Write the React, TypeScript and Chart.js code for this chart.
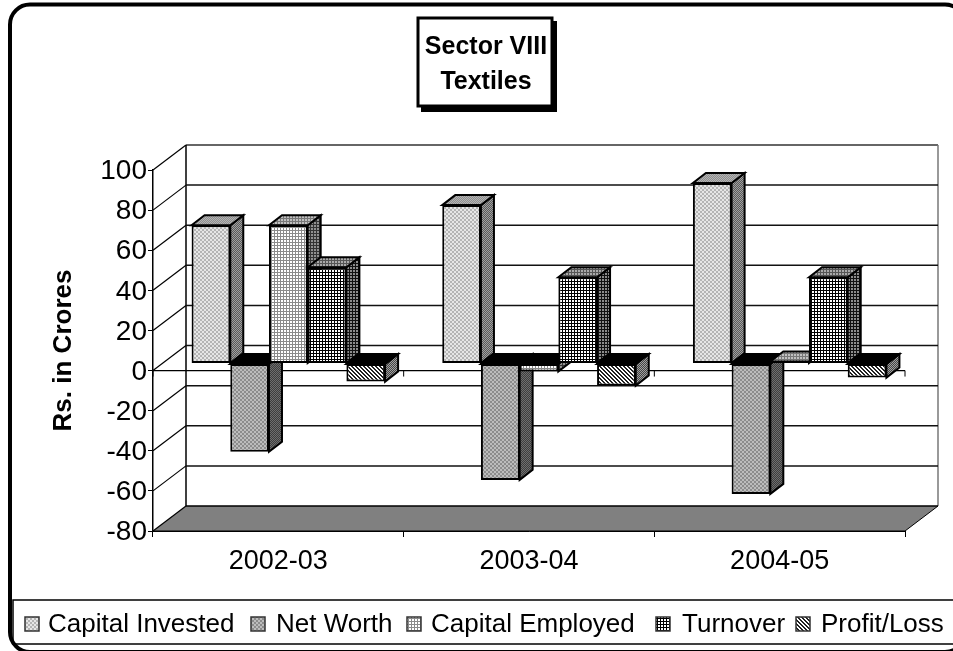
import React, { useEffect, useRef } from "react";
import { Chart, registerables } from "chart.js";

Chart.register(...registerables);

const categories = ["2002-03", "2003-04", "2004-05"];
const capitalInvested = [69, 79, 90];
const netWorth = [-44, -58, -65];
const capitalEmployed = [69, -4, 1];
const turnover = [48, 43, 43];
const profitLoss = [-9, -11, -7];
const seriesNames = ["Capital Invested", "Net Worth", "Capital Employed", "Turnover", "Profit/Loss"];
const seriesValues = [capitalInvested, netWorth, capitalEmployed, turnover, profitLoss];
const titleLines = ["Sector VIII", "Textiles"];
const axisTitle = "Rs. in Crores";

const FONT = '"Liberation Sans", Arial, sans-serif';
const WALL = { dx: 33, dy: -25 };
const BAR_OFFSET = { dx: 10, dy: -7 };
const BAR_DEPTH = { dx: 13, dy: -10 };
const LEGEND_SWATCH_X = [24, 250, 406, 655, 795];
const LEGEND_TEXT_X = [48, 276, 431, 682, 821];

type Pat = { rows: string[]; a: string; b: string };
const checker = (a: string, b: string): Pat => ({ rows: ["aabb", "aabb", "bbaa", "bbaa"], a, b });
const fine = (a: string, b: string): Pat => ({ rows: ["ab", "ba"], a, b });
const grid = (a: string, b: string): Pat => ({ rows: ["aaa", "abb", "abb"], a, b });
const hatch = (a: string, b: string): Pat => ({ rows: ["aabb", "baab", "bbaa", "abba"], a, b });

const styles = [
  { front: checker("#b4b4b4", "#e6e6e6"), side: fine("#5a5a5a", "#a0a0a0"), top: fine("#8e8e8e", "#b4b4b4") },
  { front: checker("#8c8c8c", "#bcbcbc"), side: fine("#3e3e3e", "#6e6e6e"), top: fine("#8e8e8e", "#b4b4b4") },
  { front: grid("#8a8a8a", "#ffffff"), side: grid("#333333", "#909090"), top: grid("#777777", "#c0c0c0") },
  { front: grid("#000000", "#ffffff"), side: grid("#111111", "#8c8c8c"), top: grid("#555555", "#aaaaaa") },
  { front: hatch("#222222", "#ffffff"), side: fine("#444444", "#a0a0a0"), top: hatch("#555555", "#aaaaaa") },
];

let activePats: { front: CanvasPattern; side: CanvasPattern; top: CanvasPattern }[] = [];

function makePattern(ctx: CanvasRenderingContext2D, p: Pat): CanvasPattern {
  const c = document.createElement("canvas");
  c.width = p.rows[0].length;
  c.height = p.rows.length;
  const g = c.getContext("2d")!;
  p.rows.forEach((row, y) => {
    [...row].forEach((ch, x) => {
      g.fillStyle = ch === "a" ? p.a : p.b;
      g.fillRect(x, y, 1, 1);
    });
  });
  return ctx.createPattern(c, "repeat")!;
}

function poly(ctx: CanvasRenderingContext2D, pts: number[][], fill: any, stroke?: string, lw = 2) {
  ctx.beginPath();
  pts.forEach(([x, y], i) => (i ? ctx.lineTo(x, y) : ctx.moveTo(x, y)));
  ctx.closePath();
  if (fill) {
    ctx.fillStyle = fill;
    ctx.fill();
  }
  if (stroke) {
    ctx.strokeStyle = stroke;
    ctx.lineWidth = lw;
    ctx.lineJoin = "miter";
    ctx.stroke();
  }
}

function line(ctx: CanvasRenderingContext2D, x1: number, y1: number, x2: number, y2: number, color: string, lw: number) {
  ctx.beginPath();
  ctx.moveTo(x1, y1);
  ctx.lineTo(x2, y2);
  ctx.strokeStyle = color;
  ctx.lineWidth = lw;
  ctx.stroke();
}

const walls = {
  id: "walls",
  beforeDraw(chart: any) {
    const { ctx, chartArea: a, scales } = chart;
    const y = scales.y;
    const { dx, dy } = WALL;
    ctx.save();
    ctx.fillStyle = "#ffffff";
    ctx.fillRect(0, 0, chart.width, chart.height);
    // outer frame
    ctx.beginPath();
    ctx.roundRect(10, 4.5, 955, 647.5, 20);
    ctx.strokeStyle = "#000";
    ctx.lineWidth = 4;
    ctx.stroke();
    // floor
    poly(ctx, [[a.left, a.bottom], [a.left + dx, a.bottom + dy], [a.right + dx, a.bottom + dy], [a.right, a.bottom]], "#808080");
    // walls
    line(ctx, a.left + dx, a.top + dy, a.right + dx, a.top + dy, "#333", 1.5);
    line(ctx, a.right + dx, a.top + dy, a.right + dx, a.bottom + dy, "#777", 1.5);
    line(ctx, a.left + dx, a.top + dy, a.left + dx, a.bottom + dy, "#000", 1.5);
    line(ctx, a.left + dx, a.bottom + dy, a.right + dx, a.bottom + dy, "#000", 1.5);
    line(ctx, a.right, a.bottom, a.right + dx, a.bottom + dy, "#000", 1);
    line(ctx, a.left, a.bottom, a.right, a.bottom, "#000", 1);
    for (const tick of y.ticks) {
      const py = y.getPixelForValue(tick.value);
      line(ctx, a.left, py, a.left + dx, py + dy, "#000", 1.2);
      if (tick.value > y.min && tick.value < y.max) line(ctx, a.left + dx, py + dy, a.right + dx, py + dy, "#111", 1.5);
    }
    // zero line with its ticks
    const zero = y.getPixelForValue(0);
    line(ctx, a.left, zero, a.right, zero, "#000", 1.2);
    const step = (a.right - a.left) / categories.length;
    for (let i = 0; i <= categories.length; i++) {
      const px = a.left + i * step;
      line(ctx, px, zero, px, zero + 6, "#000", 1);
    }
    ctx.restore();
  },
};

const bars3d = {
  id: "bars3d",
  // The library would paint the last series first; the 3D look needs left-to-right.
  beforeDatasetDraw() {
    return false;
  },
  afterDatasetsDraw(chart: any) {
    const { ctx } = chart;
    const { dx, dy } = BAR_DEPTH;
    seriesNames.forEach((_, i) => {
      const meta = chart.getDatasetMeta(i);
      const st = activePats[i];
      ctx.save();
      ctx.translate(BAR_OFFSET.dx, BAR_OFFSET.dy);
      for (const el of meta.data) {
        const { x, y, base, width } = el.getProps(["x", "y", "base", "width"], true);
        const l = x - width / 2;
        const r = x + width / 2;
        const top = Math.min(y, base);
        const bottom = Math.max(y, base);
        poly(ctx, [[r, top], [r + dx, top + dy], [r + dx, bottom + dy], [r, bottom]], st.side, "#000", 2);
        const negative = y > base;
        poly(ctx, [[l, top], [l + dx, top + dy], [r + dx, top + dy], [r, top]], negative ? "#000" : st.top, "#000", 2);
      }
      meta.controller.draw();
      ctx.restore();
    });
  },
};

const overlay = {
  id: "overlay",
  afterDraw(chart: any) {
    const { ctx } = chart;
    ctx.save();
    // legend
    ctx.strokeStyle = "#000";
    ctx.lineWidth = 1.5;
    ctx.strokeRect(13, 600, 960, 44);
    ctx.font = `26px ${FONT}`;
    ctx.textBaseline = "alphabetic";
    ctx.textAlign = "left";
    seriesNames.forEach((name, i) => {
      const lx = LEGEND_SWATCH_X[i];
      ctx.fillStyle = activePats[i].front;
      ctx.fillRect(lx + 1, 617, 14, 14);
      ctx.strokeStyle = "#333";
      ctx.lineWidth = 1.5;
      ctx.strokeRect(lx + 1, 617, 14, 14);
      ctx.fillStyle = "#000";
      ctx.fillText(name, LEGEND_TEXT_X[i], 632);
    });
    // title box
    ctx.fillStyle = "#000";
    ctx.fillRect(421, 21, 136, 91);
    ctx.fillStyle = "#fff";
    ctx.fillRect(417, 17, 136, 90);
    ctx.strokeStyle = "#000";
    ctx.lineWidth = 3;
    ctx.strokeRect(418, 18, 134, 88);
    ctx.fillStyle = "#000";
    ctx.font = `bold 25px ${FONT}`;
    ctx.textAlign = "center";
    ctx.textBaseline = "middle";
    titleLines.forEach((t, i) => ctx.fillText(t, 486, 47 + i * 35));
    ctx.restore();
  },
};

export default function App() {
  const ref = useRef<HTMLCanvasElement>(null);
  useEffect(() => {
    const canvas = ref.current!;
    const ctx = canvas.getContext("2d")!;
    activePats = styles.map((s) => ({
      front: makePattern(ctx, s.front),
      side: makePattern(ctx, s.side),
      top: makePattern(ctx, s.top),
    }));
    const chart: any = new Chart(canvas, {
      type: "bar",
      data: {
        labels: categories,
        datasets: seriesNames.map((label, i) => ({
          label,
          data: seriesValues[i],
          backgroundColor: activePats[i].front,
          borderColor: "#000",
          borderWidth: 2,
          borderSkipped: false,
          categoryPercentage: 0.772,
          barPercentage: 1,
          clip: false,
        })),
      },
      options: {
        responsive: false,
        animation: false,
        devicePixelRatio: 1,
        layout: { padding: { top: 170, right: 48, left: 0, bottom: 0 } },
        plugins: { legend: { display: false }, title: { display: false }, tooltip: { enabled: false } },
        scales: {
          x: {
            offset: true,
            afterFit(s: any) {
              s.height = 120;
            },
            grid: { drawOnChartArea: false, offset: true, tickLength: 6, tickColor: "#000", lineWidth: 1 },
            border: { color: "#000", width: 1 },
            ticks: { color: "#000", font: { family: FONT, size: 27 }, padding: 8, maxRotation: 0, autoSkip: false },
          },
          y: {
            min: -80,
            max: 100,
            afterFit(s: any) {
              s.width = 153;
            },
            grid: { drawOnChartArea: false, tickLength: 5, tickColor: "#000" },
            border: { color: "#000", width: 1.5 },
            ticks: { stepSize: 20, color: "#000", font: { family: FONT, size: 28 }, padding: 1, labelOffset: 1.5 },
            title: {
              display: true,
              text: axisTitle,
              color: "#000",
              font: { family: FONT, size: 26, weight: "bold" },
              padding: { top: 48, bottom: 0 },
            },
          },
        },
      },
      plugins: [walls, bars3d, overlay],
    } as any);
    return () => chart.destroy();
  }, []);
  return (
    <canvas
      ref={ref}
      width={953}
      height={651}
      style={{ position: "absolute", left: 0, top: 0, width: 953, height: 651, display: "block" }}
    />
  );
}
